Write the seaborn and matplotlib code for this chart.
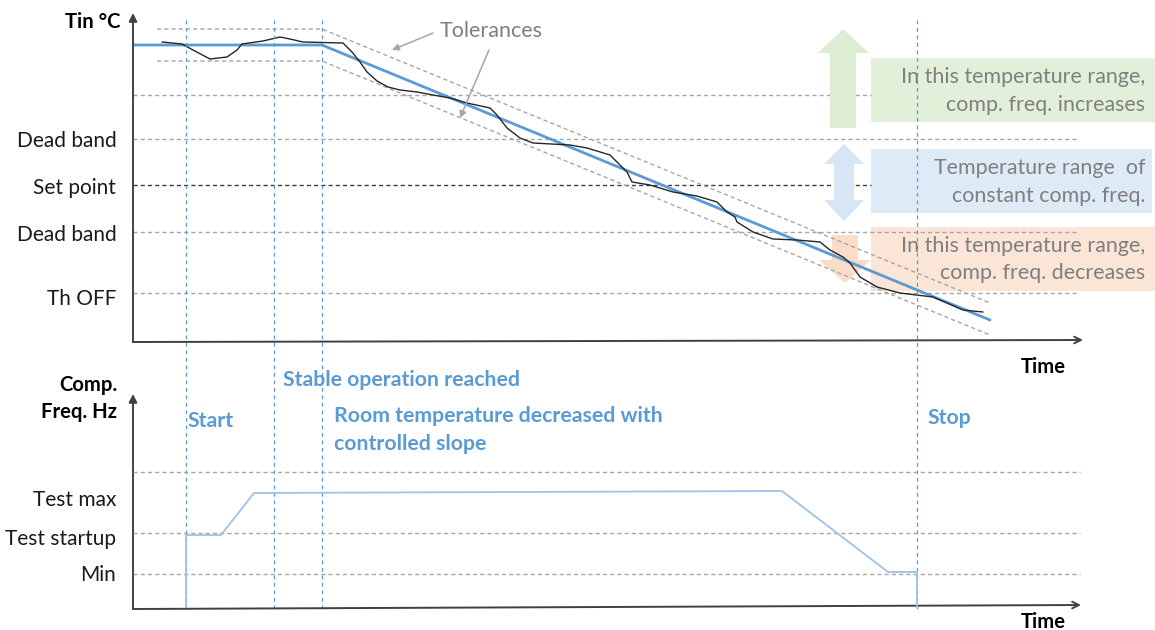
import matplotlib
matplotlib.use("Agg")
import matplotlib.pyplot as plt
import matplotlib.transforms as mtransforms
import matplotlib.patches as mpatches
import seaborn as sns

# ---------------- data ----------------
# top panel: time (arbitrary units) vs indoor temperature (arbitrary units)
setpoint_time = [0, 189, 857]
setpoint_temp = [297, 297, 22]
tol_time = [24, 189, 857]
tol_upper = [313, 313, 39]
tol_lower = [281, 281, 7]
meas_time = [29, 49, 60, 77, 94, 104, 109, 130, 147, 157, 170, 210, 219, 227, 234, 244,
             255, 267, 284, 300, 317, 334, 357, 364, 374, 387, 400, 437, 454, 477, 485,
             494, 499, 517, 540, 564, 584, 594, 602, 604, 620, 640, 664, 687, 697, 710,
             717, 727, 744, 767, 800, 814, 830, 850]
meas_temp = [300, 298, 292, 283, 285, 292, 298, 301, 305, 303, 300, 299, 290, 280, 270, 261,
             255, 252, 250, 247, 244, 239, 234, 227, 214, 204, 199, 197, 194, 187, 179,
             170, 160, 157, 150, 146, 140, 130, 125, 120, 110, 103, 102, 100, 92, 85,
             79, 65, 55, 49, 45, 39, 32, 30]
temp_levels = [247, 203, 157, 110, 49]
temp_level_end = [738, 945, 738, 945, 945]
temp_tick_pos = [203, 156, 109, 45]
temp_tick_labels = ["Dead band", "Set point", "Dead band", "Th OFF"]

# bottom panel: compressor frequency
freq_time = [53, 53, 88, 121, 649, 755, 784, 784]
freq_vals = [0, 73, 73, 115, 117, 36, 36, 0]
freq_levels = [136, 75, 34]
freq_tick_pos = [110, 71, 35]
freq_tick_labels = ["Test max", "Test startup", "Min"]

event_times = [53, 141, 189, 784]

# ---------------- style ----------------
sns.set_theme(style="white")
FONT = ["Lato", "DejaVu Sans"]
plt.rcParams["font.family"] = FONT

BLUE = "#5B9BD5"
LBLUE = "#9DC3E6"
GREY = "#A6A6A6"
TXTGREY = "#7F7F7F"
AXC = "#404040"
DASH = (0, (3, 2.2))

W, H = 1155, 630
fig = plt.figure(figsize=(W / 100, H / 100), dpi=100)
pxT = mtransforms.Affine2D().scale(1 / W, -1 / H).translate(0, 1) + fig.transFigure

ax_t = fig.add_axes([133 / W, (H - 342) / H, 952 / W, 332 / H])
ax_b = fig.add_axes([133 / W, (H - 608) / H, 952 / W, 218 / H])
for ax, ymax in ((ax_t, 332), (ax_b, 218)):
    ax.set_xlim(0, 952)
    ax.set_ylim(0, ymax)
    ax.patch.set_alpha(0)
    for s in ax.spines.values():
        s.set_visible(False)
    ax.set_xticks([])
    ax.tick_params(axis="y", length=0, pad=12, labelsize=15, labelcolor="#1a1a1a")

ax_t.set_yticks(temp_tick_pos, temp_tick_labels)
ax_b.set_yticks(freq_tick_pos, freq_tick_labels)

# grid levels
for lv, end in zip(temp_levels, temp_level_end):
    c = "#404040" if lv == 157 else GREY
    ax_t.plot([0, end], [lv, lv], color=c, lw=1, ls=DASH, zorder=2)
for lv in freq_levels:
    ax_b.plot([0, 947], [lv, lv], color=GREY, lw=1, ls=DASH, zorder=2)

# annotation boxes and block arrows (pixel coordinates, drawn in top axes)
boxes = [((871, 58), 284, 64, "#E2F0D9"),
         ((871, 149), 281, 64, "#DEEBF7"),
         ((871, 227), 284, 64, "#FBE5D6")]
for (x0, y0), w, h, col in boxes:
    ax_t.add_patch(mpatches.Rectangle((x0, y0), w, h, transform=pxT, facecolor=col,
                                      edgecolor="none", clip_on=False, zorder=1.5))
arrows = [
    ([(830, 128), (856, 128), (856, 53), (869, 53), (843, 29), (818, 53), (830, 53)], "#DCEDD3"),
    ([(844, 144), (864, 164), (854, 164), (854, 200), (864, 200), (844, 221), (824, 200),
      (834, 200), (834, 164), (824, 164)], "#D6E6F5"),
    ([(832, 235), (858, 235), (858, 260), (871, 260), (845, 283), (819, 260), (832, 260)], "#FADCC8"),
]
for pts, col in arrows:
    ax_t.add_patch(mpatches.Polygon(pts, closed=True, transform=pxT, facecolor=col,
                                    edgecolor="none", clip_on=False, zorder=2.5))

box_text = [("In this temperature range,", 77), ("comp. freq. increases", 105),
            ("Temperature range  of", 168), ("constant comp. freq.", 196),
            ("In this temperature range,", 246), ("comp. freq. decreases", 273)]
for s, y in box_text:
    fig.text(1145 / W, 1 - y / H, s, ha="right", va="center", fontsize=15.4, color=TXTGREY,
             zorder=3)

# tolerance lines
ax_t.plot(tol_time, tol_upper, color=GREY, lw=1, ls=DASH, zorder=3)
ax_t.plot(tol_time, tol_lower, color=GREY, lw=1, ls=DASH, zorder=3)

# main lines
sns.lineplot(x=setpoint_time, y=setpoint_temp, ax=ax_t, color=BLUE, lw=2,
             sort=False, estimator=None, zorder=4)
sns.lineplot(x=meas_time, y=meas_temp, ax=ax_t, color="#262626", lw=1,
             sort=False, estimator=None, zorder=5)
sns.lineplot(x=freq_time, y=freq_vals, ax=ax_b, color=LBLUE, lw=1.3,
             sort=False, estimator=None, zorder=4)

# event lines spanning both panels
blend = mtransforms.blended_transform_factory(ax_t.transData, fig.transFigure)
for t in event_times:
    ax_t.plot([t, t], [1 - 20 / H, 1 - 610 / H], transform=blend, color=BLUE, lw=0.9,
              ls=(0, (3, 3)), clip_on=False, zorder=6)

# axes arrows
def axis_arrow(p0, p1, style):
    ax_t.annotate("", xy=p1, xytext=p0, xycoords=pxT, textcoords=pxT,
                  arrowprops=dict(arrowstyle=style, color=AXC, lw=1.4,
                                  shrinkA=0, shrinkB=0, mutation_scale=12),
                  annotation_clip=False, zorder=7)

axis_arrow((133, 342), (133, 13), "-|>")
axis_arrow((133, 342), (1083, 340), "->")
axis_arrow((133, 609), (133, 394), "-|>")
axis_arrow((133, 609), (1081, 605), "->")

# tolerances annotation
fig.text(491 / W, 1 - 31 / H, "Tolerances", ha="center", va="center", fontsize=15.5,
         color=TXTGREY)
for p0, p1 in (((433, 33), (392, 50)), ((489, 50), (460, 118))):
    ax_t.annotate("", xy=p1, xytext=p0, xycoords=pxT, textcoords=pxT,
                  arrowprops=dict(arrowstyle="-|>", color=GREY, lw=1.1, shrinkA=0,
                                  shrinkB=0, mutation_scale=10),
                  annotation_clip=False, zorder=7)

# axis titles
bold_black = [("Tin °C", 120, 22, "right"), ("Comp.", 117, 385, "right"),
              ("Freq. Hz", 117, 412, "right"), ("Time", 1043, 367, "center"),
              ("Time", 1043, 622, "center")]
for s, x, y, ha in bold_black:
    fig.text(x / W, 1 - y / H, s, ha=ha, va="center", fontsize=14.6,
             fontweight="bold", color="black")

# event labels
event_labels = [("Stable operation reached", 283, 380), ("Start", 188, 421),
                ("Room temperature decreased with", 334, 416), ("controlled slope", 334, 444),
                ("Stop", 928, 418)]
for s, x, y in event_labels:
    fig.text(x / W, 1 - y / H, s, ha="left", va="center", fontsize=15.3,
             fontweight="bold", color=BLUE)

fig.savefig("out.png", dpi=100)
